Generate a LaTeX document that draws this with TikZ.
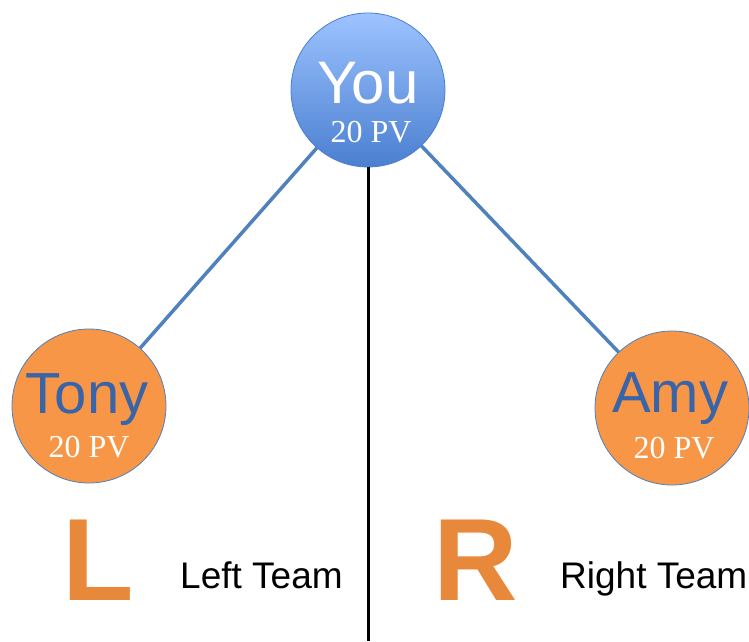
\documentclass[tikz,border=0pt]{standalone}
\usepackage{fontspec}
\setmainfont{Liberation Serif}
\setsansfont{Liberation Sans}
\definecolor{linkblue}{HTML}{4F81BD}
\definecolor{youtop}{HTML}{9DC3FF}
\definecolor{youbot}{HTML}{4A7FD0}
\definecolor{orng}{HTML}{F79646}
\definecolor{orngD}{HTML}{E8883A}
\definecolor{namecol}{HTML}{3A64A8}
\tikzset{
  member/.style={circle, minimum size=154pt, inner sep=0pt, draw=linkblue, line width=0.8pt},
  youcircle/.style={member, top color=youtop, bottom color=youbot, draw=youbot},
  kidcircle/.style={member, fill=orng},
  bigname/.style={font=\sffamily\fontsize{58}{58}\selectfont, anchor=base, inner sep=0pt},
  pv/.style={font=\rmfamily\fontsize{32}{32}\selectfont, text=white, anchor=base, inner sep=0pt},
  link/.style={draw=linkblue, line width=3.5pt},
  divider/.style={draw=black, line width=3pt},
  teamletter/.style={font=\sffamily\bfseries\fontsize{117}{117}\selectfont, text=orngD, anchor=base, inner sep=0pt},
  teamlabel/.style={font=\sffamily\fontsize{37}{37}\selectfont, anchor=base west, inner sep=0pt}
}
\begin{document}
\begin{tikzpicture}[x=1pt,y=-1pt]
\useasboundingbox (0,0) rectangle (749,641);
% circles
\node[youcircle] (you) at (368,90) {};
\node[kidcircle] (tony) at (89,406) {};
\node[kidcircle] (amy) at (672,408) {};
% connectors
\draw[link] (you) -- (tony);
\draw[link] (you) -- (amy);
\coordinate (bottom) at (368,641);
\draw[divider] (you.south) -- (bottom);
% texts
\node[bigname, text=white, font=\sffamily\fontsize{60}{60}\selectfont] (youname) at (368,103) {You};
\node[pv] (youpv) at (371,142) {20 PV};
\node[bigname, text=namecol] (tonyname) at (87,413) {Tony};
\node[pv] (tonypv) at (89,457) {20 PV};
\node[bigname, text=namecol] (amyname) at (670,412) {Amy};
\node[pv] (amypv) at (674,458) {20 PV};
% team labels
\node[teamletter] (L) at (98,600) {L};
\node[teamletter] (R) at (476,600) {R};
\node[teamlabel] (lt) at (180,588) {Left Team};
\node[teamlabel] (rt) at (560,588) {Right Team};
\end{tikzpicture}
\end{document}
